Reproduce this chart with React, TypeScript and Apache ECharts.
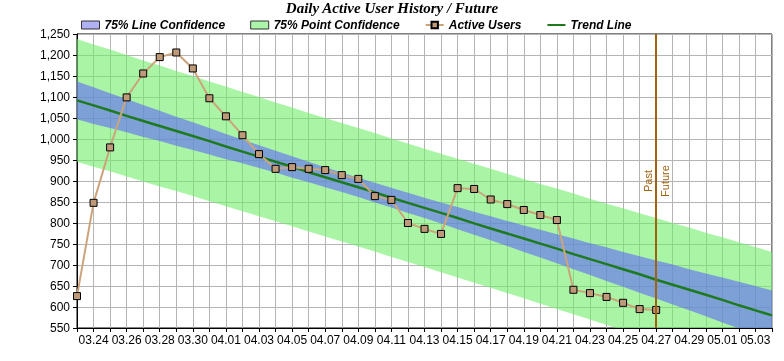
import React, { useEffect, useRef } from "react";
import * as echarts from "echarts";

const days = [
  "03.23", "03.24", "03.25", "03.26", "03.27", "03.28", "03.29", "03.30", "03.31",
  "04.01", "04.02", "04.03", "04.04", "04.05", "04.06", "04.07", "04.08", "04.09", "04.10",
  "04.11", "04.12", "04.13", "04.14", "04.15", "04.16", "04.17", "04.18", "04.19", "04.20",
  "04.21", "04.22", "04.23", "04.24", "04.25", "04.26", "04.27", "04.28", "04.29", "04.30",
  "05.01", "05.02", "05.03", "05.04",
];

const activeUsers = [
  626, 848, 980, 1099, 1156, 1195, 1206, 1168, 1097, 1054, 1009, 964, 929, 933, 929, 926,
  914, 905, 864, 855, 800, 786, 774, 883, 881, 856, 845, 831, 819, 807, 641, 633, 624, 610,
  595, 593,
];

const trendLine = [
  1092, 1080, 1068, 1055, 1043, 1031, 1019, 1007, 995, 982, 970, 958, 946, 934, 921, 909,
  897, 885, 873, 860, 848, 836, 824, 812, 799, 787, 775, 763, 751, 739, 726, 714, 702, 690,
  678, 665, 653, 641, 629, 617, 604, 592, 580,
];

const lineConfUpper = [
  1137, 1123, 1109, 1095, 1081, 1067, 1053, 1040, 1026, 1012, 999, 985, 972, 959, 946, 933,
  920, 908, 896, 884, 872, 860, 849, 838, 827, 816, 805, 794, 784, 773, 763, 752, 742, 731,
  721, 711, 701, 690, 680, 670, 660, 650, 639,
];
const lineConfLower = [
  1047, 1036, 1026, 1016, 1005, 995, 984, 974, 963, 952, 942, 931, 920, 908, 897, 885, 874,
  862, 849, 837, 824, 812, 799, 785, 772, 759, 745, 731, 718, 704, 690, 676, 662, 648, 634,
  620, 606, 592, 578, 563, 549, 535, 521,
];

const pointConfUpper = [
  1238, 1225, 1213, 1200, 1187, 1175, 1162, 1150, 1137, 1125, 1112, 1100, 1087, 1075, 1062,
  1050, 1038, 1026, 1014, 1001, 989, 977, 965, 953, 941, 929, 917, 905, 893, 882, 870, 858,
  846, 835, 823, 812, 800, 789, 777, 766, 754, 743, 731,
];
const pointConfLower = [
  946, 934, 923, 911, 899, 887, 876, 864, 852, 840, 828, 816, 804, 792, 780, 768, 756, 744,
  732, 719, 707, 695, 683, 670, 658, 646, 633, 621, 608, 595, 583, 570, 557, 545, 532, 519,
  506, 494, 481, 468, 455, 442, 429,
];

const yMin = 550;
const yMax = 1250;
const yStep = 50;
const dividerDay = "04.27";
const titleText = "Daily Active User History / Future";

export default function App() {
  const ref = useRef<HTMLDivElement>(null);

  useEffect(() => {
    const chart = echarts.init(ref.current!, null, { renderer: "svg" });
    const font = "'Liberation Sans', Arial, sans-serif";
    const diff = (u: number[], l: number[]) => u.map((v, i) => v - l[i]);
    const brown = "#a0620f";

    chart.setOption({
      animation: false,
      title: {
        text: titleText,
        left: "center",
        top: 0,
        padding: 0,
        textStyle: {
          fontFamily: "'Liberation Serif', 'Times New Roman', serif",
          fontStyle: "italic",
          fontWeight: "bold",
          fontSize: 15,
          color: "#000",
        },
      },
      legend: {
        left: 76,
        top: 14,
        itemGap: 25,
        itemWidth: 18,
        itemHeight: 8,
        selectedMode: false,
        textStyle: {
          fontFamily: font,
          fontStyle: "italic",
          fontWeight: "bold",
          fontSize: 12,
          color: "#000",
        },
        data: [
          {
            name: "75% Line Confidence",
            icon: "rect",
            itemStyle: { color: "#b0b0f5", borderColor: "#333", borderWidth: 1 },
          },
          {
            name: "75% Point Confidence",
            icon: "rect",
            itemStyle: { color: "#aaf5a8", borderColor: "#333", borderWidth: 1 },
          },
          { name: "Active Users" },
          { name: "Trend Line", itemStyle: { opacity: 0 } },
        ],
      },
      grid: {
        left: 77,
        right: 12,
        top: 34,
        bottom: 33,
        show: true,
        borderColor: "#000",
        borderWidth: 1,
      },
      xAxis: {
        type: "category",
        data: days,
        boundaryGap: false,
        axisLine: { lineStyle: { color: "#000", width: 1 } },
        axisTick: { interval: 0, length: 4, lineStyle: { color: "#000" } },
        axisLabel: {
          interval: (i: number) => i % 2 === 1,
          color: "#000",
          fontSize: 12,
          fontFamily: font,
          margin: 6,
        },
        splitLine: { show: true, interval: 0, lineStyle: { color: "#b4b4b4", width: 1 } },
      },
      yAxis: {
        type: "value",
        min: yMin,
        max: yMax,
        interval: yStep,
        axisLine: { show: true, lineStyle: { color: "#000", width: 1 } },
        axisTick: { show: true, length: 4, lineStyle: { color: "#000" } },
        axisLabel: {
          color: "#000",
          fontSize: 12,
          fontFamily: font,
          margin: 7,
          formatter: (v: number) => v.toLocaleString("en-US"),
        },
        splitLine: { show: true, lineStyle: { color: "#b4b4b4", width: 1 } },
      },
      series: [
        {
          name: "pointLow",
          type: "line",
          stack: "point",
          data: pointConfLower,
          symbol: "none",
          lineStyle: { width: 0, opacity: 0 },
          emphasis: { disabled: true },
          silent: true,
        },
        {
          name: "75% Point Confidence",
          type: "line",
          stack: "point",
          data: diff(pointConfUpper, pointConfLower),
          symbol: "none",
          lineStyle: { width: 0, opacity: 0 },
          itemStyle: { color: "#aaf5a8" },
          areaStyle: { color: "rgba(113,238,105,0.6)", opacity: 1 },
          emphasis: { disabled: true },
          silent: true,
        },
        {
          name: "lineLow",
          type: "line",
          stack: "line",
          data: lineConfLower,
          symbol: "none",
          lineStyle: { width: 0, opacity: 0 },
          emphasis: { disabled: true },
          silent: true,
        },
        {
          name: "75% Line Confidence",
          type: "line",
          stack: "line",
          data: diff(lineConfUpper, lineConfLower),
          symbol: "none",
          lineStyle: { width: 0, opacity: 0 },
          itemStyle: { color: "#b0b0f5" },
          areaStyle: { color: "rgba(95,103,248,0.6)", opacity: 1 },
          emphasis: { disabled: true },
          silent: true,
        },
        {
          name: "Trend Line",
          type: "line",
          data: trendLine,
          symbol: "none",
          lineStyle: { color: "#1e7a1e", width: 2.5 },
          itemStyle: { color: "#1e7a1e" },
          emphasis: { disabled: true },
          markLine: {
            silent: true,
            symbol: "none",
            lineStyle: { color: brown, width: 2, type: "solid" },
            label: { color: brown, fontSize: 11, fontFamily: font, distance: 3 },
            data: [
              { xAxis: dividerDay, label: { formatter: "Past", position: "insideMiddleTop" } },
              { xAxis: dividerDay, label: { formatter: "Future", position: "insideMiddleBottom" } },
            ],
          },
        },
        {
          name: "Active Users",
          type: "line",
          data: activeUsers,
          symbol: "rect",
          symbolSize: 7,
          lineStyle: { color: "#cca47c", width: 2 },
          itemStyle: { color: "#bf9a78", borderColor: "#000", borderWidth: 1 },
          emphasis: { disabled: true },
        },
      ],
    });

    return () => chart.dispose();
  }, []);

  return (
    <div
      ref={ref}
      style={{ position: "fixed", left: 0, top: 0, width: 784, height: 361 }}
    />
  );
}
